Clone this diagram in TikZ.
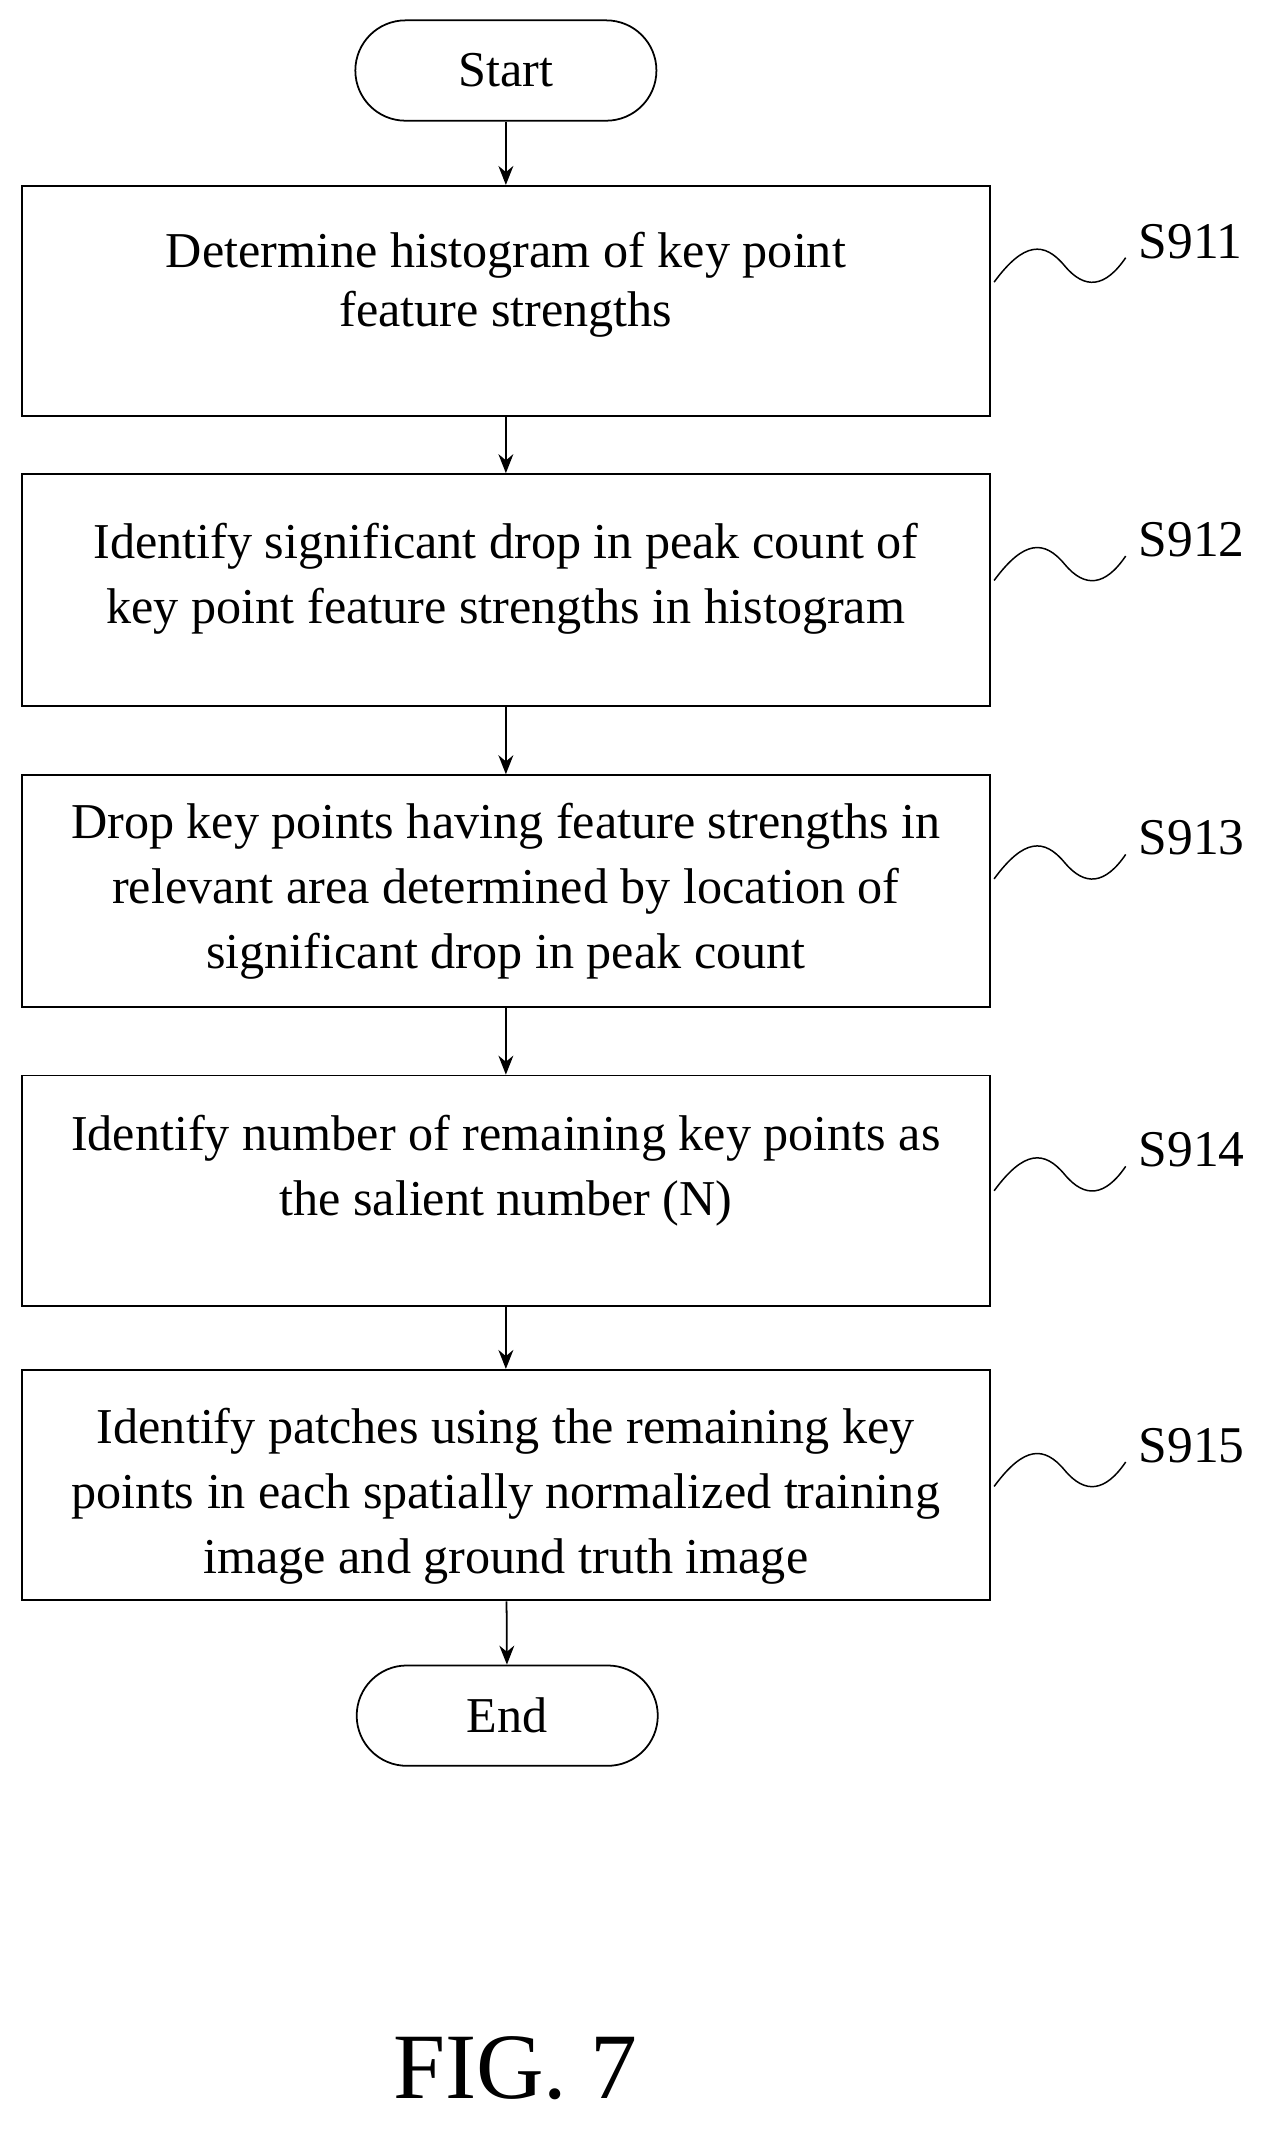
\documentclass[tikz,border=0pt]{standalone}
\usepackage{fontspec}
\setmainfont{Liberation Serif}
\usetikzlibrary{arrows.meta}
\begin{document}
\begin{tikzpicture}[x=1pt,y=-1pt,
  box/.style={draw,line width=1.3pt,minimum width=714pt},
  txt/.style={align=center,inner sep=0pt,font=\fontsize{37}{48}\selectfont},
  term/.style={draw,line width=1.3pt,rounded corners=37pt,minimum width=222pt,minimum height=74pt,font=\fontsize{37}{48}\selectfont},
  lab/.style={font=\fontsize{38}{40}\selectfont},
  arr/.style={line width=1.3pt,-{Stealth[length=14pt,width=11pt]}},
  sq/.style={line width=1.1pt}]
\useasboundingbox (0,0) rectangle (932,1572);
\node[term] (start) at (373,52) {Start};
\node[box,minimum height=170pt] (b1) at (373,222) {};
\node[box,minimum height=171pt] (b2) at (373,435) {};
\node[box,minimum height=171pt] (b3) at (373,657) {};
\node[box,minimum height=170pt] (b4) at (373,878) {};
\node[box,minimum height=170pt] (b5) at (373,1095) {};
\node[txt,font=\fontsize{37}{43}\selectfont] (t1) at (373,210) {Determine histogram of key point\\feature strengths};
\node[txt] (t2) at (373,427) {Identify significant drop in peak count of\\key point feature strengths in histogram};
\node[txt] (t3) at (373,657) {Drop key points having feature strengths in\\relevant area determined by location of\\significant drop in peak count};
\node[txt] (t4) at (373,863) {Identify number of remaining key points as\\the salient number (N)};
\node[txt] (t5) at (373,1103) {Identify patches using the remaining key\\points in each spatially normalized training\\image and ground truth image};
\node[term] (end) at (374,1265) {End};
\draw[arr] (start) -- (b1);
\draw[arr] (b1) -- (b2);
\draw[arr] (b2) -- (b3);
\draw[arr] (b3) -- (b4);
\draw[arr] (b4) -- (b5);
\draw[arr] (b5) -- (end);
\foreach \n/\y/\t in {1/190/S911,2/410/S912,3/630/S913,4/860/S914,5/1078/S915}{
  \coordinate (s\n a) at (733,\y+18);
  \coordinate (s\n b) at (830,\y);
  \draw[sq] (s\n a) .. controls (755,\y-12) and (770,\y-12) .. (785,\y+6)
     .. controls (800,\y+24) and (815,\y+22) .. (s\n b);
  \node[lab,anchor=west] (l\n) at (836,\y-12) {\t};
}
\node[font=\fontsize{69}{72}\selectfont] (fig) at (380,1525) {FIG. 7};
\end{tikzpicture}
\end{document}
